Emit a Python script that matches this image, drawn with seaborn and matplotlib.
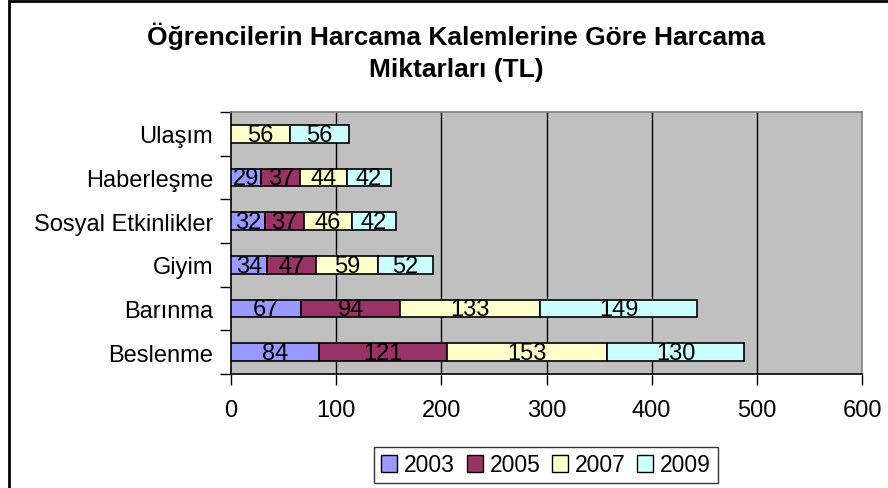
import matplotlib
matplotlib.use("Agg")
import matplotlib.pyplot as plt
from matplotlib.patches import Rectangle
import seaborn as sns
import pandas as pd
import numpy as np

categories = ["Ulaşım", "Haberleşme", "Sosyal Etkinlikler", "Giyim", "Barınma", "Beslenme"]
years = ["2003", "2005", "2007", "2009"]
v2003 = [0, 29, 32, 34, 67, 84]
v2005 = [0, 37, 37, 47, 94, 121]
v2007 = [56, 44, 46, 59, 133, 153]
v2009 = [56, 42, 42, 52, 149, 130]
colors = ["#9999FF", "#993366", "#FFFFCC", "#CCFFFF"]
xticks = [0, 100, 200, 300, 400, 500, 600]
title = "Öğrencilerin Harcama Kalemlerine Göre Harcama\nMiktarları (TL)"

sns.set_style("white")
plt.rcParams["font.family"] = ["Liberation Sans", "DejaVu Sans"]
plt.rcParams["text.color"] = "black"
plt.rcParams["xtick.color"] = "black"
plt.rcParams["ytick.color"] = "black"
plt.rcParams["xtick.labelcolor"] = "black"
plt.rcParams["ytick.labelcolor"] = "black"

FS = 17

fig = plt.figure(figsize=(8.88, 4.89), dpi=100)
ax = fig.add_axes([231 / 888, 1 - 375 / 489, (862 - 231) / 888, (375 - 113) / 489])
ax.set_facecolor("#C0C0C0")

series = [v2003, v2005, v2007, v2009]
left = np.zeros(len(categories))
for yr, vals, col in zip(years, series, colors):
    df = pd.DataFrame({"cat": categories, "val": vals})
    sns.barplot(data=df, x="val", y="cat", order=categories, color=col,
                width=0.41, left=left, edgecolor="black", linewidth=1.2,
                ax=ax, zorder=3, saturation=1)
    for i, v in enumerate(vals):
        if v > 0:
            ax.text(left[i] + v / 2, i + 0.02, str(v), ha="center", va="center",
                    fontsize=FS, color="black", zorder=4)
    left = left + np.array(vals)

if ax.get_legend() is not None:
    ax.get_legend().remove()

ax.set_xlim(0, 600)
ax.set_ylim(5.5, -0.5)
ax.set_xticks(xticks)
ax.set_xticklabels([str(t) for t in xticks])
ax.set_xlabel("")
ax.set_ylabel("")
for t in xticks[1:-1]:
    ax.axvline(t, color="black", linewidth=1, zorder=1)

ax.set_yticks(range(len(categories)))
ax.set_yticklabels(categories)
ax.set_yticks(np.arange(-0.5, len(categories)), minor=True)
ax.tick_params(axis="y", which="major", length=0, pad=13, labelsize=FS)
ax.tick_params(axis="y", which="minor", length=8, width=1, color="black", direction="out", left=True)
ax.tick_params(axis="x", length=8, width=1, color="black", direction="out", bottom=True, pad=10, labelsize=FS)

for s in ["left", "bottom"]:
    ax.spines[s].set_color("black")
    ax.spines[s].set_linewidth(1.2)
for s in ["top", "right"]:
    ax.spines[s].set_color("#808080")
    ax.spines[s].set_linewidth(1.2)
    ax.spines[s].set_visible(True)

fig.text(456 / 888, 1 - 52 / 489, title, ha="center", va="center",
         fontsize=19, fontweight="bold", linespacing=1.42, color="black")

handles = [Rectangle((0, 0), 1, 1, facecolor=c, edgecolor="black", linewidth=1) for c in colors]
leg = fig.legend(handles, years, loc="center", bbox_to_anchor=(546 / 888, 1 - 466 / 489),
                 ncol=4, frameon=True, fancybox=False, fontsize=16.5,
                 handlelength=0.7, handleheight=0.7, handletextpad=0.3,
                 columnspacing=0.5, borderpad=0.3)
leg.get_frame().set_edgecolor("black")
leg.get_frame().set_linewidth(1)

border = Rectangle((9 / 888, -0.2), 1.5, 1.2 - 2 / 489, transform=fig.transFigure,
                   fill=False, edgecolor="black", linewidth=2, clip_on=False)
fig.patches.append(border)

fig.savefig("out.png", dpi=100, facecolor="white")
